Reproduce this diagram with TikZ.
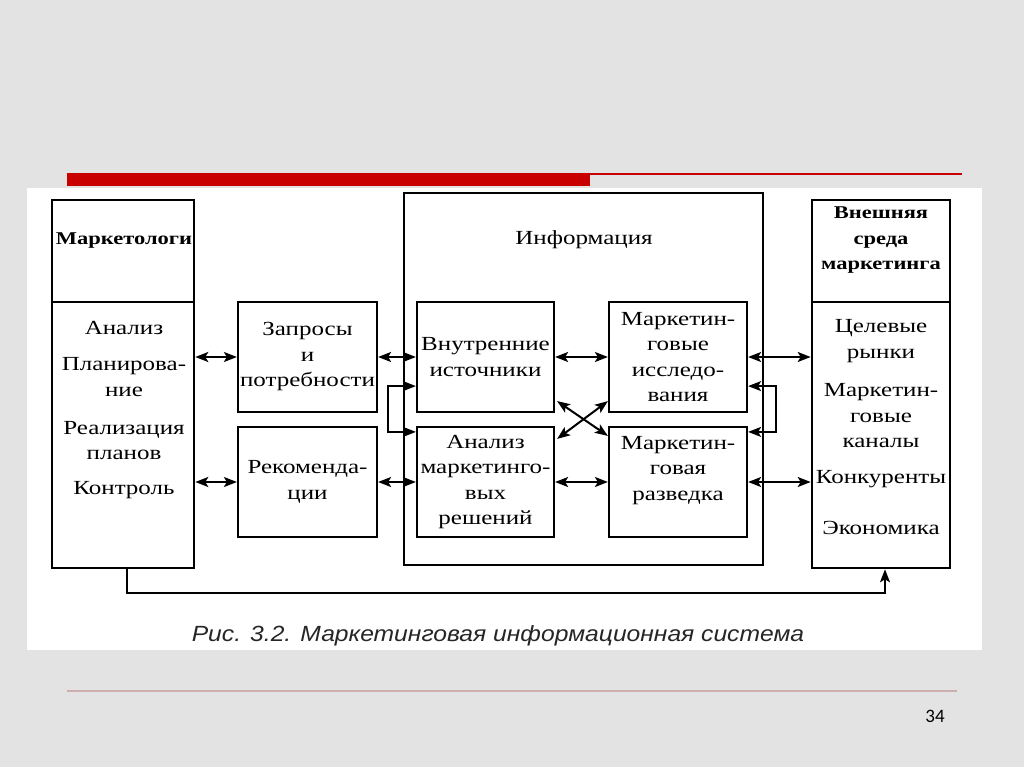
\documentclass[tikz,border=0pt]{standalone}
\usepackage{fontspec}
\setmainfont{Liberation Serif}[FakeStretch=1.25]
\newfontfamily\capfont{Liberation Sans}[FakeStretch=1.12]
\newfontfamily\numfont{Carlito}
\usetikzlibrary{arrows.meta,calc}
\definecolor{bggray}{RGB}{227,227,227}
\definecolor{slidered}{RGB}{200,0,0}
\definecolor{footline}{RGB}{205,175,175}
\begin{document}
\begin{tikzpicture}[x=1pt,y=-1pt,
  box/.style={draw, line width=2.2pt, minimum width=#1, inner sep=0pt, align=center},
  box/.default=139pt,
  big/.style={draw, line width=2.6pt, inner sep=0pt},
  txt/.style={inner sep=0pt, align=center},
  tip/.tip={Stealth[length=13pt,width=10pt,inset=3pt]},
  dbl/.style={line width=2pt, tip-tip},
  one/.style={line width=1.8pt, -tip},
  every node/.style={font=\fontsize{20}{25.5}\selectfont}
]
\useasboundingbox (0,0) rectangle (1024,767);
\fill[bggray] (0,0) rectangle (1024,767);
\fill[white] (27,188) rectangle (982,650);
\fill[slidered] (67,173) rectangle (590,186);
\draw[slidered, line width=1.2pt] (590,174) -- (962,174);
\draw[footline, line width=1.5pt] (67,691) -- (957,691);
\node[txt, font=\numfont\fontsize{19}{22}\selectfont] (pnum) at (935,716) {34};

% Marketologi
\node[big, minimum width=142pt, minimum height=102pt] (mkt) at (123,251) {};
\node[big, minimum width=142pt, minimum height=266pt] (mkb) at (123,435) {};
\node[txt, font=\bfseries\fontsize{18}{22}\selectfont] (mktt) at (124,241) {Маркетологи};
\node[txt] (l1) at (124,328) {Анализ};
\node[txt] (l2) at (124,377) {Планирова-\\ние};
\node[txt] (l3) at (124,440.5) {Реализация\\планов};
\node[txt] (l4) at (124,490) {Контроль};

% External
\node[big, minimum width=138pt, minimum height=102pt] (ext) at (881,251) {};
\node[big, minimum width=138pt, minimum height=266pt] (extb) at (881,435) {};
\node[txt, font=\bfseries\fontsize{18}{25.5}\selectfont] (extt) at (881,240.5) {Внешняя\\среда\\маркетинга};
\node[txt] (r1) at (881,341) {Целевые\\рынки};
\node[txt] (r2) at (881,416) {Маркетин-\\говые\\каналы};
\node[txt] (r3) at (881,479) {Конкуренты};
\node[txt] (r4) at (881,528) {Экономика};

% Information
\node[big, minimum width=359pt, minimum height=372pt] (info) at (583.5,379) {};
\node[txt] (infot) at (584,240) {Информация};

\node[box, minimum height=110pt] (zap) at (307.5,357) {Запросы\\и\\потребности};
\node[box, minimum height=110pt] (rec) at (307.5,482) {Рекоменда-\\ции};
\node[box=137pt, minimum height=110pt] (vn) at (485.5,357) {Внутренние\\источники};
\node[box=137pt, minimum height=110pt] (an) at (485.5,482) {Анализ\\маркетинго-\\вых\\решений};
\node[box=138pt, minimum height=110pt] (mi) at (678,357) {Маркетин-\\говые\\исследо-\\вания};
\node[box=138pt, minimum height=110pt] (mr) at (678,482) {};
\node[txt] (mrt) at (678,470.5) {Маркетин-\\говая\\разведка};

% connectors
\draw[dbl] (zap.west -| mkb.east) -- (zap.west);
\draw[dbl] (rec.west -| mkb.east) -- (rec.west);
\draw[dbl] (zap.east) -- (vn.west);
\draw[dbl] (rec.east) -- (an.west);
\draw[dbl] (vn.east) -- (mi.west);
\draw[dbl] (an.east) -- (mr.west);
\draw[dbl] (mi.east) -- (mi.east -| extb.west);
\draw[dbl] (mr.east) -- (mr.east -| extb.west);
\draw[dbl] ($(vn.south east)+(2,-12)$) -- ($(mr.north west)+(0,10)$);
\draw[dbl] ($(an.north east)+(2,13)$) -- ($(mi.south west)+(0,-12)$);
\draw[line width=1.8pt, tip-tip]
  ($(vn.south west)+(0,-27)$) -- ++(-28,0) |- ($(an.north west)+(0,6)$);
\draw[line width=1.8pt, tip-tip]
  ($(mi.south east)+(0,-27)$) -- ++(28,0) |- ($(mr.north east)+(0,6)$);
\draw[one] ($(mkb.south)+(4,0)$) -- ++(0,24) -| ($(extb.south)+(4,0)$);

\node[txt, font=\capfont\itshape\fontsize{22}{24}\selectfont, text=black!85] (cap) at (498,636) {Рис. 3.2. Маркетинговая информационная система};
\end{tikzpicture}
\end{document}
